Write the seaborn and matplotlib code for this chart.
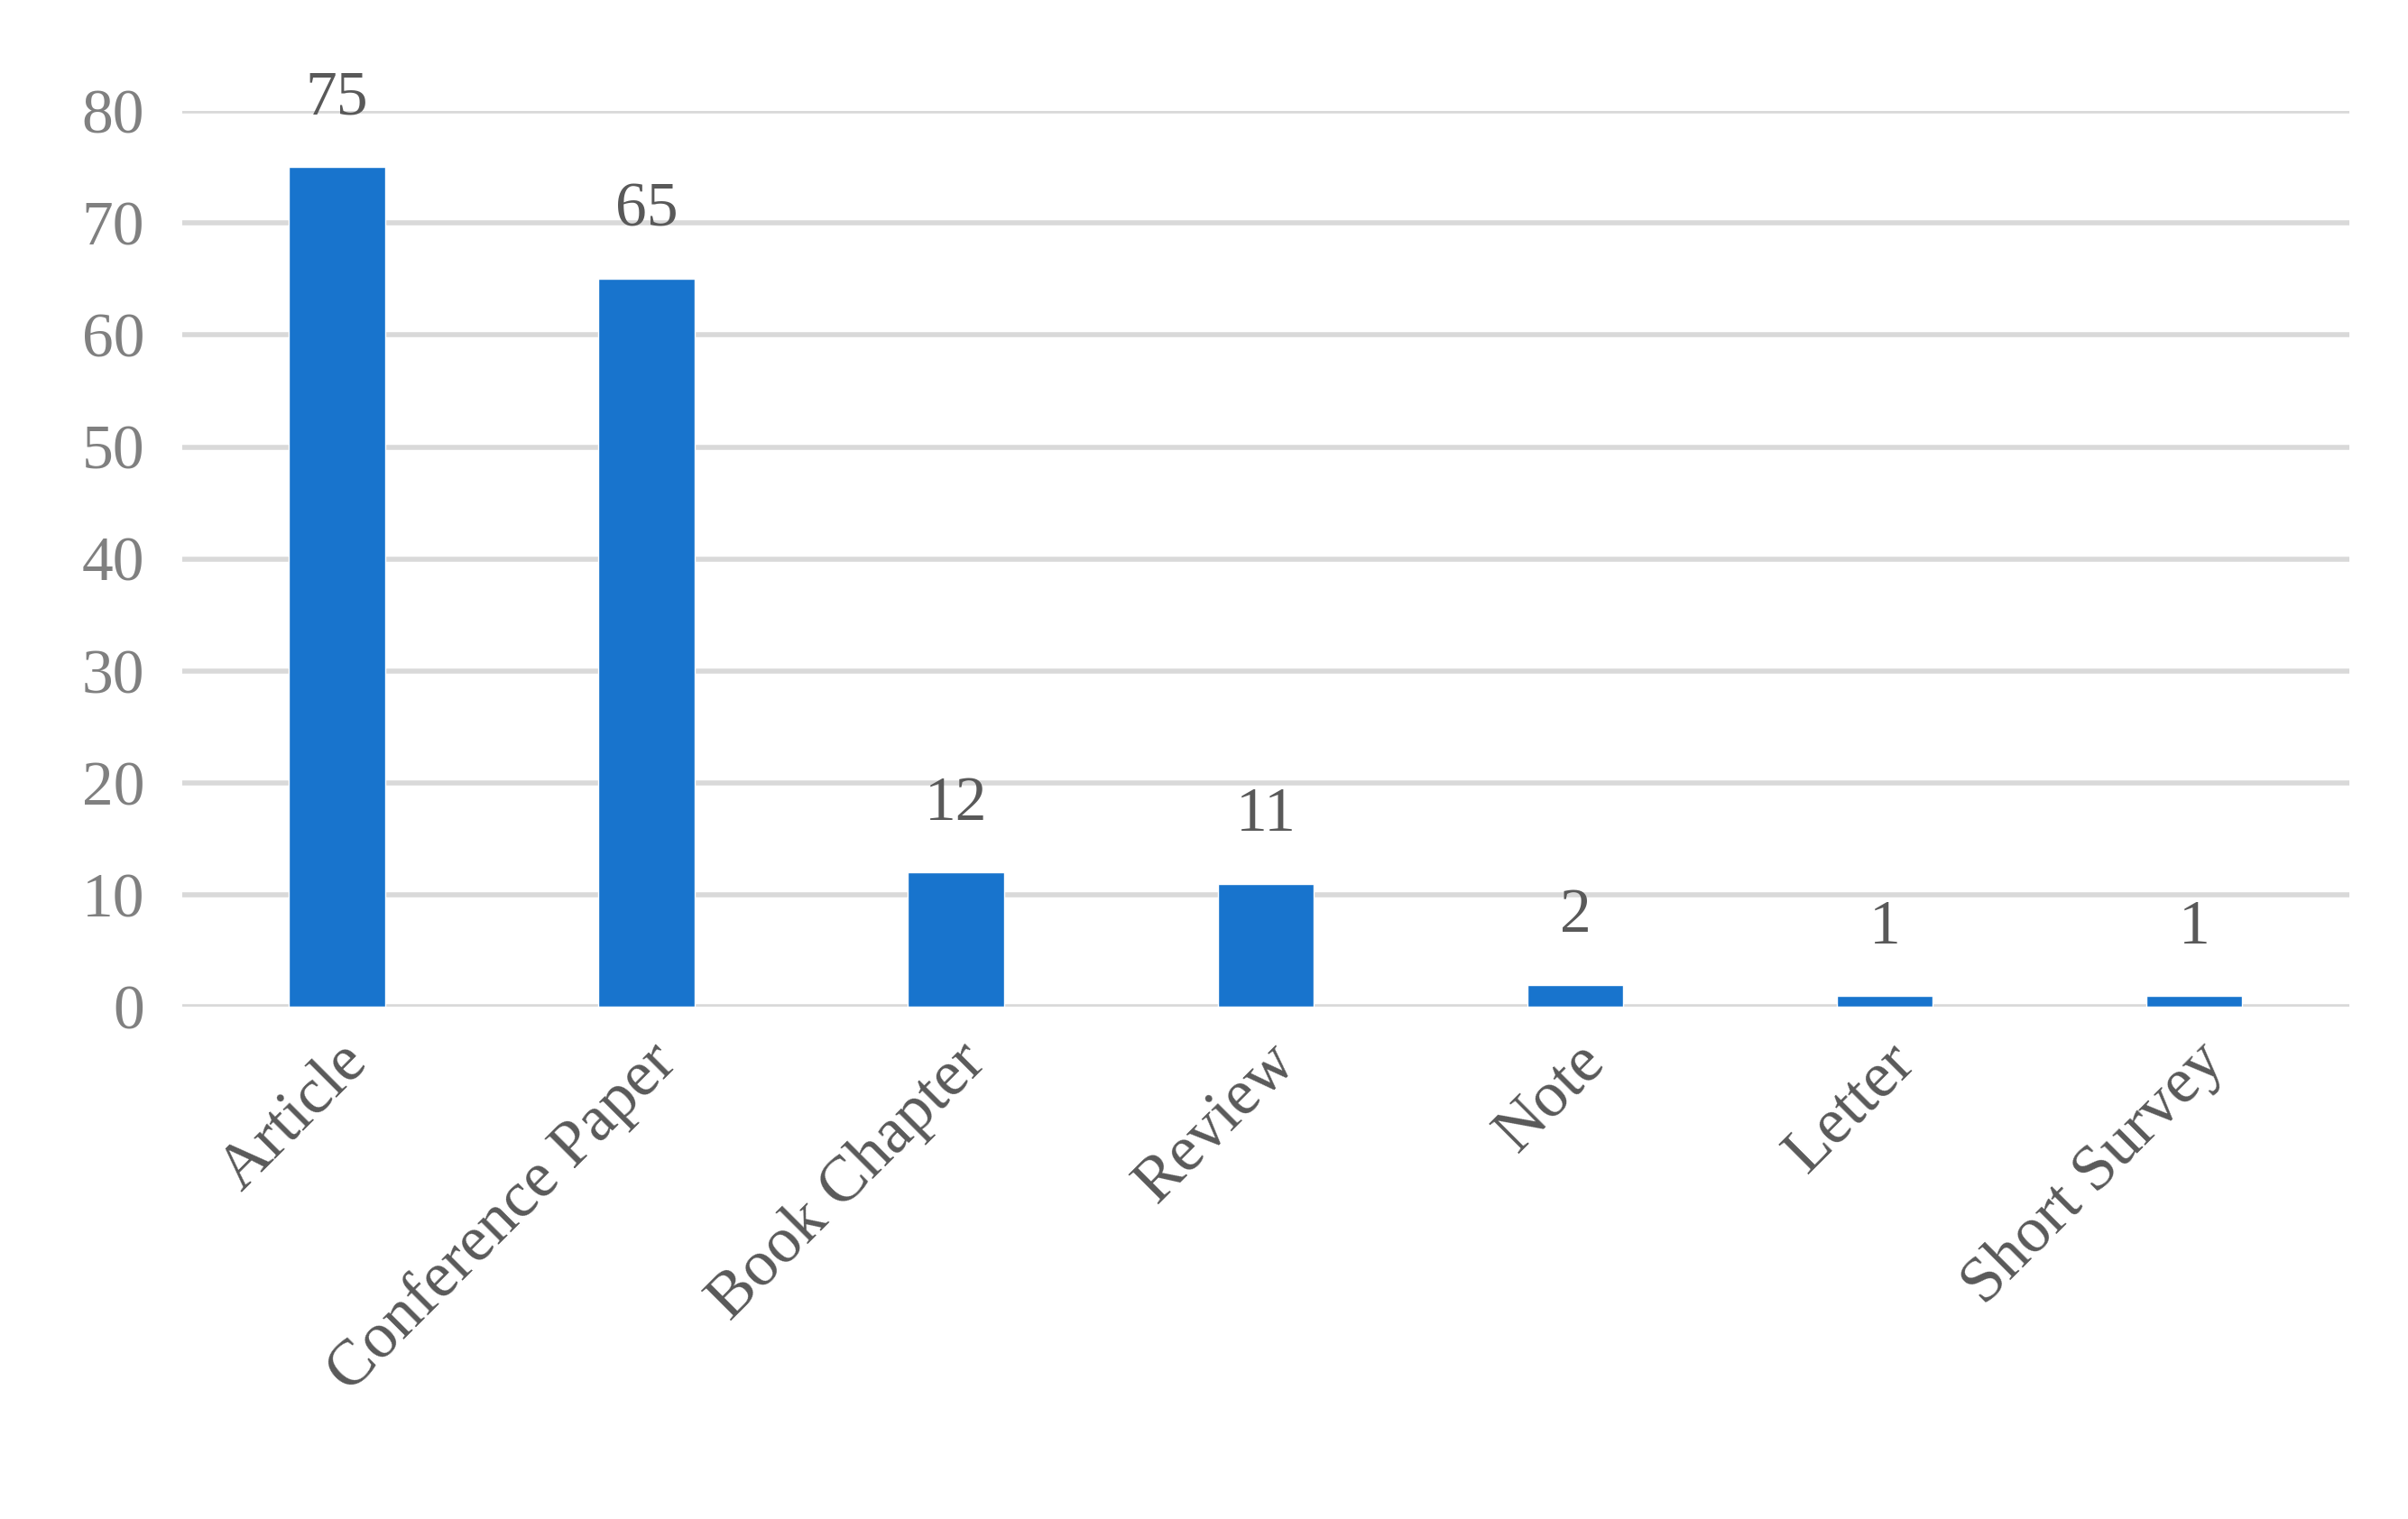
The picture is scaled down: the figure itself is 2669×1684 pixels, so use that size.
import matplotlib
matplotlib.use("Agg")
import matplotlib.pyplot as plt
import seaborn as sns
import pandas as pd

categories = ["Article", "Conference Paper", "Book Chapter", "Review", "Note", "Letter", "Short Survey"]
counts = [75, 65, 12, 11, 2, 1, 1]

sns.set_style("white")
plt.rcParams['font.family'] = ['Liberation Serif', 'DejaVu Serif']

df = pd.DataFrame({"cat": categories, "n": counts})
fig = plt.figure(figsize=(26.69, 16.84), dpi=100)
ax = fig.add_axes([0.0756, 0.337, 0.90, 0.59])
sns.barplot(data=df, x="cat", y="n", color="#1874CD", saturation=1, width=0.31, ax=ax)
ax.set_ylim(0, 80)
ax.set_yticks(range(0, 81, 10))
ax.yaxis.grid(True, color="#D9D9D9", linewidth=4)
ax.set_axisbelow(True)
for s in ax.spines.values():
    s.set_visible(False)
ax.set_xlabel("")
ax.set_ylabel("")
ax.tick_params(axis="y", labelsize=50, labelcolor="#808080", length=0, pad=30)
ax.tick_params(axis="x", labelsize=52, labelcolor="#595959", length=0, pad=20)
plt.setp(ax.get_xticklabels(), rotation=45, ha="right", rotation_mode="anchor")
for i, v in enumerate(counts):
    ax.text(i, v + 3.5, str(v), ha="center", va="bottom", fontsize=50, color="#595959")
fig.savefig("out.png", dpi=100)
